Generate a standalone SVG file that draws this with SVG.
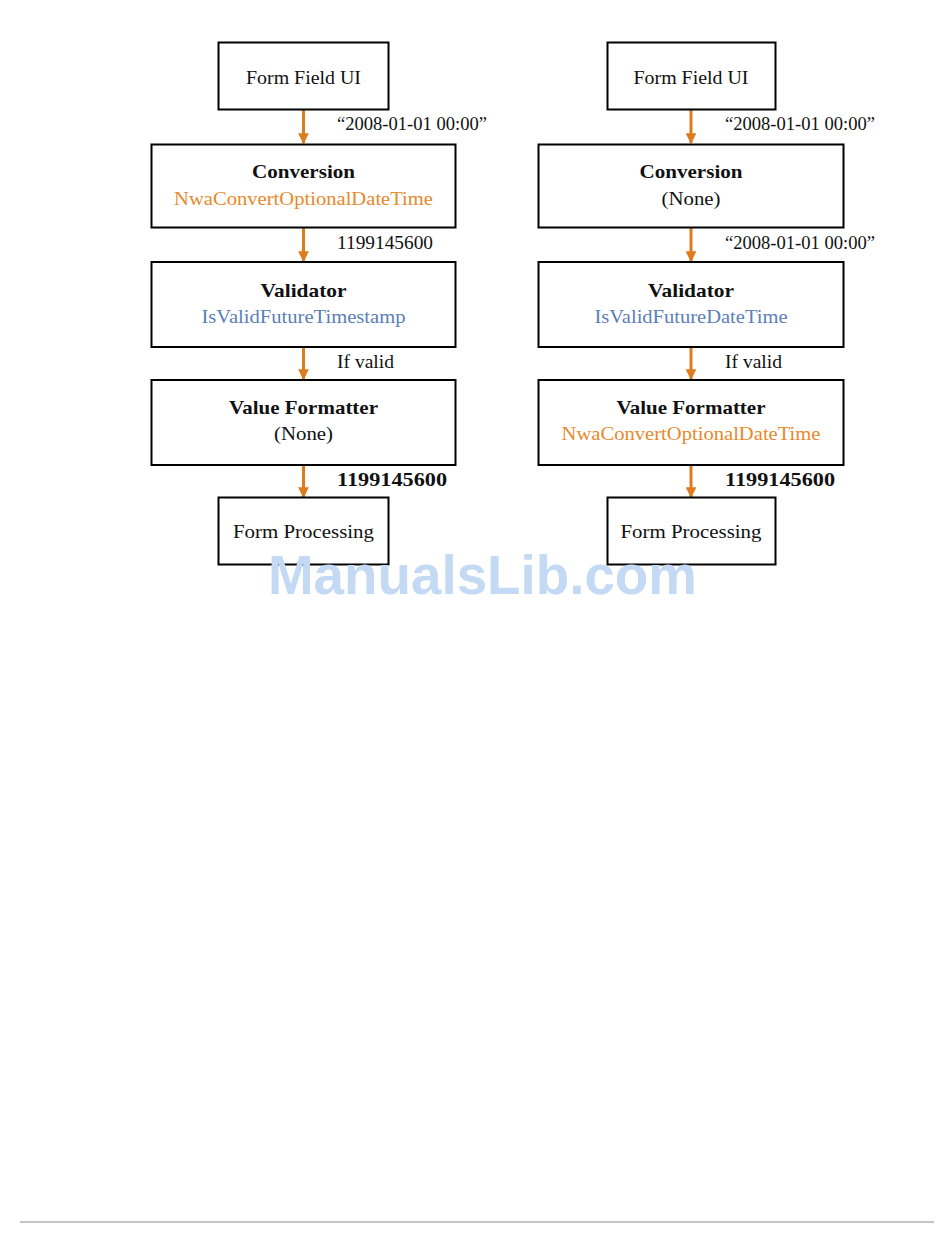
<svg xmlns="http://www.w3.org/2000/svg" width="950" height="1254" viewBox="0 0 950 1254">
<style>
.box{fill:#fff;stroke:#000;stroke-width:2}
.t{font-family:"Liberation Serif","Times New Roman",serif;font-size:19px;fill:#111;text-anchor:middle}
.b{font-weight:bold}
.lbl{font-family:"Liberation Serif","Times New Roman",serif;font-size:19px;fill:#111}
.or{fill:#E8892B}
.bl{fill:#5B80B8}
.conn{stroke:#DE7B1C;stroke-width:3;fill:none}
.wm{font-family:"Liberation Sans",Arial,sans-serif;font-weight:bold;font-size:55px;fill:#C4DAF4}
</style>
<defs>
<marker id="ah" viewBox="0 0 10 10" refX="9" refY="5" markerWidth="3.6" markerHeight="3.6" orient="auto" markerUnits="strokeWidth">
<path d="M0,0 L10,5 L0,10 z" fill="#DE7B1C"/>
</marker>
</defs>
<g id="connectors">
<line class="conn" x1="303.5" y1="110" x2="303.5" y2="143" marker-end="url(#ah)"/>
<line class="conn" x1="303.5" y1="228" x2="303.5" y2="261" marker-end="url(#ah)"/>
<line class="conn" x1="303.5" y1="347" x2="303.5" y2="379" marker-end="url(#ah)"/>
<line class="conn" x1="303.5" y1="465" x2="303.5" y2="497" marker-end="url(#ah)"/>
<line class="conn" x1="691" y1="110" x2="691" y2="143" marker-end="url(#ah)"/>
<line class="conn" x1="691" y1="228" x2="691" y2="261" marker-end="url(#ah)"/>
<line class="conn" x1="691" y1="347" x2="691" y2="379" marker-end="url(#ah)"/>
<line class="conn" x1="691" y1="465" x2="691" y2="497" marker-end="url(#ah)"/>
<text class="lbl" x="337" y="130" textLength="150" lengthAdjust="spacingAndGlyphs">“2008-01-01 00:00”</text>
<text class="lbl" x="337" y="249" textLength="96" lengthAdjust="spacingAndGlyphs">1199145600</text>
<text class="lbl" x="337" y="368" textLength="57" lengthAdjust="spacingAndGlyphs">If valid</text>
<text class="lbl b" x="337" y="486" textLength="110" lengthAdjust="spacingAndGlyphs">1199145600</text>
<text class="lbl" x="725" y="130" textLength="150" lengthAdjust="spacingAndGlyphs">“2008-01-01 00:00”</text>
<text class="lbl" x="725" y="249" textLength="150" lengthAdjust="spacingAndGlyphs">“2008-01-01 00:00”</text>
<text class="lbl" x="725" y="368" textLength="57" lengthAdjust="spacingAndGlyphs">If valid</text>
<text class="lbl b" x="725" y="486" textLength="110" lengthAdjust="spacingAndGlyphs">1199145600</text>
</g>
<g id="l-formfield">
<rect class="box" x="218.5" y="42.5" width="170" height="67"/>
<text class="t" x="303.5" y="84" textLength="115" lengthAdjust="spacingAndGlyphs">Form Field UI</text>
</g>
<g id="l-conversion">
<rect class="box" x="151.5" y="144.5" width="304" height="83"/>
<text class="t b" x="303.5" y="178" textLength="103" lengthAdjust="spacingAndGlyphs">Conversion</text>
<text class="t or" x="303.5" y="205" textLength="259" lengthAdjust="spacingAndGlyphs">NwaConvertOptionalDateTime</text>
</g>
<g id="l-validator">
<rect class="box" x="151.5" y="262" width="304" height="85"/>
<text class="t b" x="303.5" y="297" textLength="86" lengthAdjust="spacingAndGlyphs">Validator</text>
<text class="t bl" x="303.5" y="323" textLength="204" lengthAdjust="spacingAndGlyphs">IsValidFutureTimestamp</text>
</g>
<g id="l-formatter">
<rect class="box" x="151.5" y="380" width="304" height="85"/>
<text class="t b" x="303.5" y="414" textLength="149" lengthAdjust="spacingAndGlyphs">Value Formatter</text>
<text class="t" x="303.5" y="440" textLength="59" lengthAdjust="spacingAndGlyphs">(None)</text>
</g>
<g id="l-processing">
<rect class="box" x="218.5" y="497.5" width="170" height="67"/>
<text class="t" x="303.5" y="538" textLength="141" lengthAdjust="spacingAndGlyphs">Form Processing</text>
</g>
<g id="r-formfield">
<rect class="box" x="607.5" y="42.5" width="168" height="67"/>
<text class="t" x="691" y="84" textLength="115" lengthAdjust="spacingAndGlyphs">Form Field UI</text>
</g>
<g id="r-conversion">
<rect class="box" x="538.5" y="144.5" width="305" height="83"/>
<text class="t b" x="691" y="178" textLength="103" lengthAdjust="spacingAndGlyphs">Conversion</text>
<text class="t" x="691" y="205" textLength="59" lengthAdjust="spacingAndGlyphs">(None)</text>
</g>
<g id="r-validator">
<rect class="box" x="538.5" y="262" width="305" height="85"/>
<text class="t b" x="691" y="297" textLength="86" lengthAdjust="spacingAndGlyphs">Validator</text>
<text class="t bl" x="691" y="323" textLength="193" lengthAdjust="spacingAndGlyphs">IsValidFutureDateTime</text>
</g>
<g id="r-formatter">
<rect class="box" x="538.5" y="380" width="305" height="85"/>
<text class="t b" x="691" y="414" textLength="149" lengthAdjust="spacingAndGlyphs">Value Formatter</text>
<text class="t or" x="691" y="440" textLength="259" lengthAdjust="spacingAndGlyphs">NwaConvertOptionalDateTime</text>
</g>
<g id="r-processing">
<rect class="box" x="607.5" y="497.5" width="168" height="67"/>
<text class="t" x="691" y="538" textLength="141" lengthAdjust="spacingAndGlyphs">Form Processing</text>
</g>
<text class="wm" x="268" y="594" textLength="429" lengthAdjust="spacingAndGlyphs">ManualsLib.com</text>
<line x1="20" y1="1222" x2="934" y2="1222" stroke="#8a8a8a" stroke-width="1.2"/>
</svg>
